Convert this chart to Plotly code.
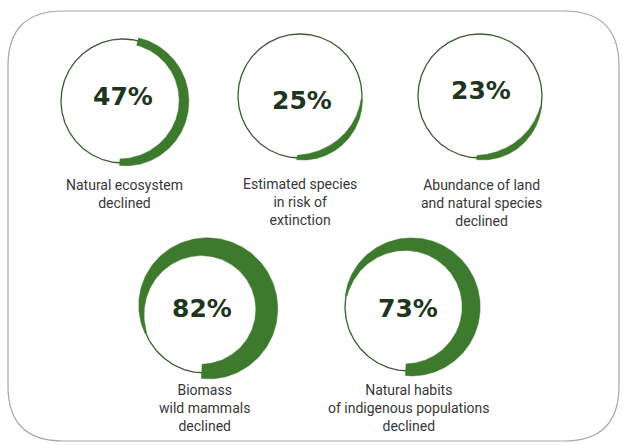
import numpy as np
import plotly.graph_objects as go

# ---- data ----
values = [47, 25, 23, 82, 73]
value_labels = ["47%", "25%", "23%", "82%", "73%"]
descriptions = [
    "Natural ecosystem<br>declined",
    "Estimated species<br>in risk of<br>extinction",
    "Abundance of land<br>and natural species<br>declined",
    "Biomass<br>wild mammals<br>declined",
    "Natural habits<br>of indigenous populations<br>declined",
]

# ---- layout / style (pixels) ----
W, H = 623, 445
centers = [(123, 101), (300, 96), (480, 96), (205, 309), (409, 307)]
radii = [62, 62, 62, 64, 64]
pct_pos = [(123, 96), (302, 100), (481, 90), (202, 308), (408, 308)]
label_pos = [(124, 175), (300, 174), (481, 175), (204, 380), (409, 380)]
band_max = [10, 7, 6.5, 22, 18]
band_floor = [0.75, 0.2, 0.2, 0.08, 0.1]
END_ANGLE = 183  # degrees clockwise from top
BAND = "#3d7a2e"
RING = "#3b5a35"
PCT_COLOR = "#1f3520"
LABEL_COLOR = "#383838"

fig = go.Figure()


def profile(s, floor):
    peak = 0.65
    if s <= peak:
        g = np.sin(np.pi / 2 * s / peak)
        return floor + (1 - floor) * g
    return 1 - 0.35 * ((s - peak) / (1 - peak)) ** 2


for i, v in enumerate(values):
    cx, cy = centers[i]
    R = radii[i]
    # thin full ring
    th = np.linspace(0, 2 * np.pi, 361)
    fig.add_trace(go.Scatter(
        x=cx + R * np.sin(th), y=cy - R * np.cos(th), mode="lines",
        line=dict(color=RING, width=1.3), hoverinfo="skip", showlegend=False))
    # thick band for the value
    span = 360 * v / 100.0
    t_deg = np.linspace(END_ANGLE - span, END_ANGLE, 200)
    s = (t_deg - t_deg[0]) / span
    thick = np.array([band_max[i] * profile(si, band_floor[i]) for si in s])
    r_out = R + 0.4 * thick
    r_in = R - 0.6 * thick
    tr = np.radians(t_deg)
    xs = np.concatenate([cx + r_out * np.sin(tr), (cx + r_in * np.sin(tr))[::-1]])
    ys = np.concatenate([cy - r_out * np.cos(tr), (cy - r_in * np.cos(tr))[::-1]])
    xs = np.append(xs, xs[0])
    ys = np.append(ys, ys[0])
    fig.add_trace(go.Scatter(
        x=xs, y=ys, mode="lines", fill="toself", fillcolor=BAND,
        line=dict(color=BAND, width=0.5), hoverinfo="skip", showlegend=False))
    # percentage
    fig.add_annotation(
        x=pct_pos[i][0], y=pct_pos[i][1], text=value_labels[i], showarrow=False,
        font=dict(family="DejaVu Sans", size=25, color=PCT_COLOR, weight="bold"),
        xanchor="center", yanchor="middle")
    # description
    fig.add_annotation(
        x=label_pos[i][0], y=label_pos[i][1], text=descriptions[i], showarrow=False,
        font=dict(family="Roboto", size=14, color=LABEL_COLOR),
        xanchor="center", yanchor="top", align="center")

# rounded frame
x0, y0, x1, y1, rr = 8, 11, 619, 441, 55
frame = (f"M {x0+rr},{y0} L {x1-rr},{y0} Q {x1},{y0} {x1},{y0+rr} "
         f"L {x1},{y1-rr} Q {x1},{y1} {x1-rr},{y1} L {x0+rr},{y1} "
         f"Q {x0},{y1} {x0},{y1-rr} L {x0},{y0+rr} Q {x0},{y0} {x0+rr},{y0} Z")
fig.add_shape(type="path", path=frame, xref="x", yref="y",
              line=dict(color="#a6a6a6", width=1.2), layer="below")

fig.update_layout(
    width=W, height=H, margin=dict(l=0, r=0, t=0, b=0),
    paper_bgcolor="white", plot_bgcolor="white",
    xaxis=dict(range=[0, W], visible=False, fixedrange=True),
    yaxis=dict(range=[H, 0], visible=False, fixedrange=True),
    showlegend=False,
)

fig.write_html("out.html", config={"displayModeBar": False},
               post_script="document.body.style.margin='0';document.body.style.overflow='hidden';")
